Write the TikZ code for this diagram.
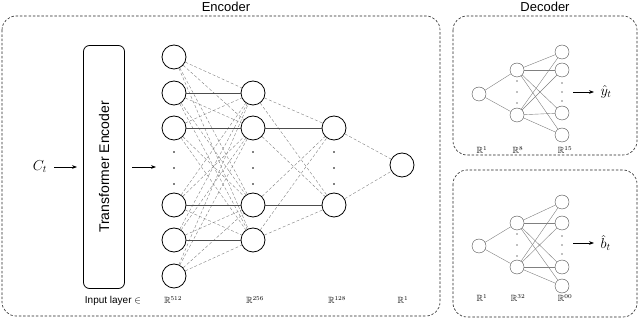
\documentclass[tikz,border=0pt]{standalone}
\usepackage{amsmath,amssymb}
\usepackage{fontspec}
\setmainfont{Liberation Sans}
\usetikzlibrary{arrows.meta,positioning}

\tikzset{
  frame/.style={draw=black!85, dash pattern=on 2.5pt off 1.8pt, rounded corners=14pt, semithick},
  title/.style={font=\fontsize{13}{14}\selectfont},
  neuron/.style={draw, circle, thick, minimum size=24pt, inner sep=0pt},
  dneuron/.style={draw=black!70, circle, minimum size=14pt, inner sep=0pt},
  link/.style={black!50, densely dashed, thin},
  hlink/.style={black!70, thin},
  dlink/.style={black!50, thin},
  dotl/.style={circle, fill, inner sep=0.6pt},
  dim/.style={font=\fontsize{9}{10}\selectfont},
  flow/.style={-{Stealth[length=5pt]}, thick}
}

\begin{document}
\begin{tikzpicture}[x=1pt, y=-1pt]
  \useasboundingbox (0,0) rectangle (640,320);

  % frames
  \draw[frame] (2,16) rectangle (440,316);
  \draw[frame] (453,16) rectangle (637,155);
  \draw[frame] (453,170) rectangle (637,317);
  \node[title] (enctitle) at (226,7) {Encoder};
  \node[title] (dectitle) at (545,7) {Decoder};

  % input and transformer
  \node[font=\fontsize{14}{15}\selectfont] (ct) at (40,167) {$C_t$};
  \node[draw, thick, rounded corners=6pt, minimum width=41pt, minimum height=243pt] (trans) at (104,167) {};
  \node[rotate=90, font=\fontsize{14}{15}\selectfont] (translabel) at (trans.center) {Transformer Encoder};
  \coordinate (ctout) at (54,167);
  \coordinate (transin) at (77,167);
  \draw[flow] (ctout) -- (transin);
  \coordinate (transout) at (132,167);
  \coordinate (layerin) at (156,167);
  \draw[flow] (transout) -- (layerin);

  % encoder layers
  \foreach \i/\y in {1/57, 2/93, 3/128, 4/205, 5/240, 6/276}
    \node[neuron] (a\i) at (174,\y) {};
  \foreach \i/\y in {1/93, 2/128, 3/205, 4/240}
    \node[neuron] (b\i) at (253,\y) {};
  \foreach \i/\y in {1/128, 2/205}
    \node[neuron] (c\i) at (334,\y) {};
  \node[neuron] (d1) at (402,165) {};
  \foreach \x in {174,253,334}
    \foreach \y in {152,168,184}
      \node[dotl] at (\x,\y) {};

  \foreach \i in {1,...,6}
    \foreach \j in {1,...,4}
      \draw[link] (a\i) -- (b\j);
  \foreach \i/\j in {2/1, 3/2, 4/3, 5/4}
    \draw[hlink] (a\i) -- (b\j);
  \foreach \i in {1,...,4}
    \foreach \j in {1,2}
      \draw[link] (b\i) -- (c\j);
  \draw[hlink] (b2) -- (c1);
  \draw[hlink] (b3) -- (c2);
  \foreach \i in {1,2}
    \draw[link] (c\i) -- (d1);

  \node[font=\fontsize{10}{11}\selectfont] (inputlab) at (113,301) {Input layer $\in$};
  \node[dim] (l512) at (173,300) {$\mathbb{R}^{512}$};
  \node[dim] (l256) at (255,300) {$\mathbb{R}^{256}$};
  \node[dim] (l128) at (337,300) {$\mathbb{R}^{128}$};
  \node[dim] (l1) at (403,300) {$\mathbb{R}^{1}$};

  % decoder y
  \node[dneuron] (ya) at (479,94) {};
  \foreach \i/\y in {1/70, 2/115}
    \node[dneuron] (yb\i) at (517,\y) {};
  \foreach \i/\y in {1/52, 2/70, 3/113, 4/135}
    \node[dneuron] (yc\i) at (562,\y) {};
  \foreach \y in {81,92,103}
    \node[dotl, fill=gray] at (517,\y) {};
  \foreach \y in {83,92,101}
    \node[dotl, fill=gray] at (562,\y) {};
  \foreach \i in {1,2}
    \draw[dlink] (ya) -- (yb\i);
  \foreach \i in {1,2}
    \foreach \j in {1,...,4}
      \draw[dlink] (yb\i) -- (yc\j);
  \coordinate (yout) at (573,92);
  \coordinate (yend) at (594,92);
  \draw[flow] (yout) -- (yend);
  \node[font=\fontsize{14}{15}\selectfont, right=3pt of yend] (yhat) {$\hat{y}_t$};
  \node[dim] (y1) at (482,150) {$\mathbb{R}^{1}$};
  \node[dim] (y8) at (518,150) {$\mathbb{R}^{8}$};
  \node[dim] (y15) at (565,150) {$\mathbb{R}^{15}$};

  % decoder b
  \node[dneuron] (ba) at (479,246) {};
  \foreach \i/\y in {1/223, 2/267}
    \node[dneuron] (bb\i) at (517,\y) {};
  \foreach \i/\y in {1/202, 2/223, 3/267, 4/286}
    \node[dneuron] (bc\i) at (562,\y) {};
  \foreach \y in {234,245,256}
    \node[dotl, fill=gray] at (517,\y) {};
  \foreach \y in {236,245,254}
    \node[dotl, fill=gray] at (562,\y) {};
  \foreach \i in {1,2}
    \draw[dlink] (ba) -- (bb\i);
  \foreach \i in {1,2}
    \foreach \j in {1,...,4}
      \draw[dlink] (bb\i) -- (bc\j);
  \coordinate (bout) at (573,243);
  \coordinate (bend) at (594,243);
  \draw[flow] (bout) -- (bend);
  \node[font=\fontsize{14}{15}\selectfont, right=3pt of bend] (bhat) {$\hat{b}_t$};
  \node[dim] (b1) at (482,298) {$\mathbb{R}^{1}$};
  \node[dim] (b32) at (518,298) {$\mathbb{R}^{32}$};
  \node[dim] (b60) at (565,298) {$\mathbb{R}^{00}$};
\end{tikzpicture}
\end{document}
